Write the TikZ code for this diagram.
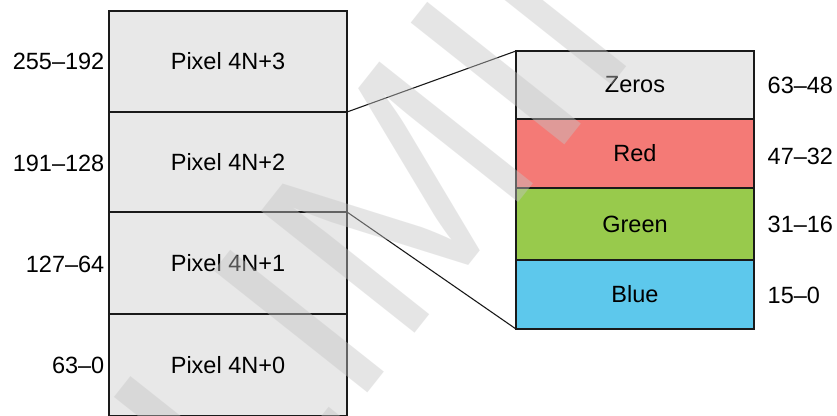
\documentclass[tikz,border=0pt]{standalone}
\usepackage{fontspec}
\setmainfont{Liberation Sans}
\definecolor{boxgray}{RGB}{232,232,232}
\definecolor{myred}{RGB}{244,122,118}
\definecolor{mygreen}{RGB}{152,202,76}
\definecolor{myblue}{RGB}{93,200,236}
\definecolor{wmgray}{RGB}{197,197,197}
\definecolor{edgeblack}{RGB}{26,26,26}
\begin{document}
\begin{tikzpicture}[x=1pt,y=-1pt,
  cell/.style={draw=edgeblack, line width=2.2pt, minimum width=238pt, inner sep=0pt, outer sep=0pt,
    font=\fontsize{23.5}{28}\selectfont},
  bitlbl/.style={inner sep=0pt, font=\fontsize{23.5}{28}\selectfont},
  conn/.style={draw=edgeblack, line width=1.1pt},
  wm/.style={text=wmgray, text opacity=0.43, inner sep=0pt, font=\fontsize{285}{285}\selectfont}]
\useasboundingbox (0,0) rectangle (837,415);
\clip (0,0) rectangle (837,415);
\fill[white] (0,0) rectangle (837,415);
% left column
\node[cell, fill=boxgray, minimum height=101pt] (p3) at (228,61.5) {Pixel 4N+3};
\node[cell, fill=boxgray, minimum height=100pt] (p2) at (228,162) {Pixel 4N+2};
\node[cell, fill=boxgray, minimum height=102pt] (p1) at (228,263) {Pixel 4N+1};
\node[cell, fill=boxgray, minimum height=102pt] (p0) at (228,365) {Pixel 4N+0};
% right column
\node[cell, fill=boxgray, minimum height=68pt] (z) at (635,85) {Zeros};
\node[cell, fill=myred, minimum height=69pt] (r) at (635,153.5) {Red};
\node[cell, fill=mygreen, minimum height=72pt] (g) at (635,224) {Green};
\node[cell, fill=myblue, minimum height=69pt] (b) at (635,294.5) {Blue};
% bit labels
\node[bitlbl, anchor=east] (l3) at (104.5,61.5) {255–192};
\node[bitlbl, anchor=east] (l2) at (104.5,163.5) {191–128};
\node[bitlbl, anchor=east] (l1) at (104.5,264.5) {127–64};
\node[bitlbl, anchor=east] (l0) at (104.5,365) {63–0};
\node[bitlbl, anchor=west] (rz) at (767.5,85) {63–48};
\node[bitlbl, anchor=west] (rr) at (767.5,156.5) {47–32};
\node[bitlbl, anchor=west] (rg) at (767.5,224) {31–16};
\node[bitlbl, anchor=west] (rb) at (767.5,295) {15–0};
% connectors
\draw[conn] (p3.south east) -- (z.north west);
\draw[conn] (p2.south east) -- (b.south west);
% watermark
\node[wm, rotate=51.6, anchor=base west] (wmark) at (-110.9,997) {PRELIMINARY};
\end{tikzpicture}
\end{document}
